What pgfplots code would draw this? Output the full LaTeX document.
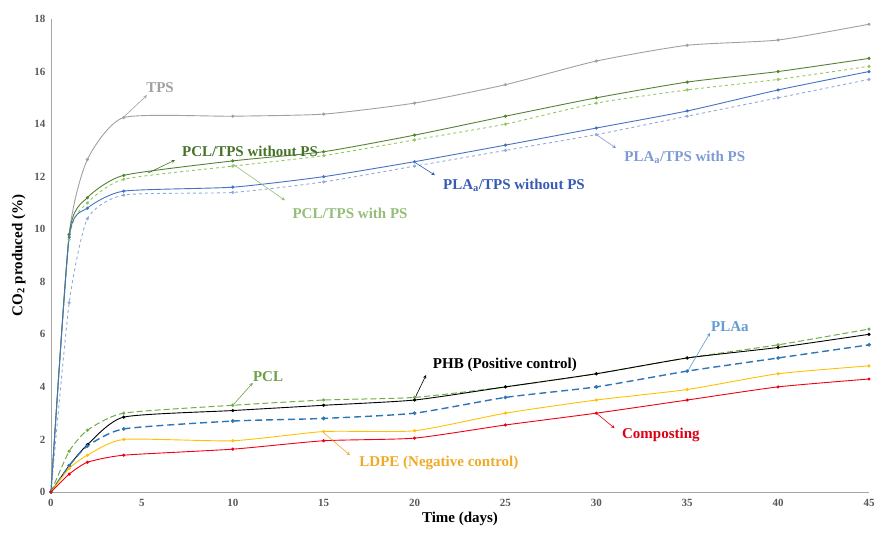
\documentclass[border=0pt]{standalone}
\usepackage{pgfplots}
\pgfplotsset{compat=1.18}
\usepackage{fontspec}
\setmainfont{Liberation Serif}
\definecolor{cTPS}{RGB}{160,160,160}
\definecolor{cPCLTwo}{RGB}{84,130,53}
\definecolor{tPCLTwo}{RGB}{70,115,40}
\definecolor{cPCLTw}{RGB}{146,200,90}
\definecolor{tPCLTw}{RGB}{150,190,120}
\definecolor{cPLATwo}{RGB}{68,114,196}
\definecolor{tPLATwo}{RGB}{55,90,180}
\definecolor{cPLATw}{RGB}{143,170,220}
\definecolor{tPLATw}{RGB}{125,155,210}
\definecolor{cPCL}{RGB}{112,173,71}
\definecolor{tPCL}{RGB}{110,160,70}
\definecolor{cPLAa}{RGB}{46,117,182}
\definecolor{tPLAa}{RGB}{100,155,210}
\definecolor{cLDPE}{RGB}{255,192,0}
\definecolor{tLDPE}{RGB}{240,170,40}
\definecolor{cComp}{RGB}{240,0,20}
\definecolor{tComp}{RGB}{220,0,20}
\pgfplotstableread{
x TPS PCLTwo PCLTw PLATwo PLATw PCL PHB PLAa LDPE Comp
0 0 0 0 0 0 0 0 0 0 0
1 9.8 9.8 9.6 9.7 7.2 1.55 1.0 1.0 0.9 0.68
2 12.65 11.2 11.0 10.8 10.4 2.35 1.8 1.75 1.4 1.13
4 14.25 12.05 11.9 11.45 11.3 3.0 2.85 2.4 2.0 1.4
10 14.3 12.6 12.4 11.6 11.4 3.3 3.1 2.7 1.95 1.63
15 14.38 12.95 12.8 12.0 11.8 3.5 3.3 2.8 2.3 1.95
20 14.8 13.58 13.4 12.57 12.4 3.6 3.5 3.0 2.33 2.05
25 15.5 14.3 14.0 13.2 13.0 4.0 4.0 3.6 3.0 2.55
30 16.4 15.0 14.8 13.85 13.6 4.5 4.5 4.0 3.5 3.0
35 17.0 15.6 15.3 14.5 14.3 5.1 5.1 4.6 3.9 3.5
40 17.2 16.0 15.7 15.3 15.0 5.6 5.5 5.1 4.5 4.0
45 17.8 16.5 16.2 16.0 15.7 6.2 6.0 5.6 4.8 4.3
}\datatable
\begin{document}
\begin{tikzpicture}
\begin{axis}[
  at={(0,0)}, anchor=south west,
  scale only axis, width=818pt, height=473pt,
  xmin=0, xmax=45, ymin=0, ymax=18,
  axis lines=left,
  axis line style={draw=black!35, line width=0.8pt, -},
  xtick={0,5,...,45}, ytick={0,2,...,18},
  major tick length=0pt,
  tick label style={font=\fontsize{11}{12}\selectfont\bfseries, text=black!65},
  /pgf/number format/assume math mode=true,
  xticklabel style={yshift=-4pt},
  yticklabel style={xshift=-2pt},
  xlabel={Time (days)}, ylabel={CO\textsubscript{2} produced (\%)},
  label style={font=\fontsize{15}{16}\selectfont\bfseries},
  xlabel style={at={(axis description cs:0.5,0)}, anchor=north, yshift=-17pt},
  ylabel style={at={(axis description cs:0,0.5)}, anchor=south, yshift=22pt},
  every axis plot/.append style={smooth, tension=0.35, mark=*, mark size=1.1pt, line width=0.9pt},
  clip=false,
]
\addplot[cTPS, mark options={solid}] table[x=x,y=TPS]{\datatable};
\addplot[cPCLTw, dashed, mark options={solid}] table[x=x,y=PCLTw]{\datatable};
\addplot[cPCLTwo, mark options={solid}] table[x=x,y=PCLTwo]{\datatable};
\addplot[cPLATw, dashed, mark options={solid}] table[x=x,y=PLATw]{\datatable};
\addplot[cPLATwo, mark options={solid}] table[x=x,y=PLATwo]{\datatable};
\addplot[cPCL, dash pattern=on 6pt off 3pt, line width=1pt, mark options={solid}] table[x=x,y=PCL]{\datatable};
\addplot[black, mark options={solid}] table[x=x,y=PHB]{\datatable};
\addplot[cPLAa, dash pattern=on 7pt off 4pt, line width=1.4pt, mark options={solid}] table[x=x,y=PLAa]{\datatable};
\addplot[cLDPE, mark options={solid}] table[x=x,y=LDPE]{\datatable};
\addplot[cComp, mark options={solid}] table[x=x,y=Comp]{\datatable};

\tikzset{ann/.style={font=\fontsize{15}{17}\selectfont\bfseries, inner sep=0pt},
         arr/.style={->, >=stealth, line width=0.6pt}}
\draw[arr, cTPS] (4,14.27) -- (5.28,15.1);
\node[ann, text=cTPS] at (6.0,15.37) {TPS};
\draw[arr, tPCLTwo] (5.34,12.14) -- (6.82,12.63);
\node[ann, text=tPCLTwo] at (10.95,12.95) {PCL/TPS without PS};
\draw[arr, tPCLTw] (10.0,12.48) -- (12.87,11.1);
\node[ann, text=tPCLTw] at (16.45,10.62) {PCL/TPS with PS};
\draw[arr, tPLATwo] (19.97,12.56) -- (21.12,12.06);
\node[ann, text=tPLATwo] at (25.47,11.68) {PLA\textsubscript{a}/TPS without PS};
\draw[arr, tPLATw] (30,13.6) -- (31.08,13.09);
\node[ann, text=tPLATw] at (34.87,12.75) {PLA\textsubscript{a}/TPS with PS};
\draw[arr, tPCL] (10,3.3) -- (11.1,4.15);
\node[ann, text=tPCL] at (11.94,4.38) {PCL};
\draw[arr, black] (20,3.54) -- (20.63,4.45);
\node[ann, text=black] at (24.97,4.83) {PHB (Positive control)};
\draw[arr, tPLAa] (35,4.57) -- (36.25,6.05);
\node[ann, text=tPLAa] at (37.35,6.28) {PLAa};
\draw[arr, tLDPE] (14.96,2.28) -- (16.45,1.4);
\node[ann, text=tLDPE] at (21.34,1.1) {LDPE (Negative control)};
\draw[arr, tComp] (30,3.0) -- (31.0,2.43);
\node[ann, text=tComp] at (33.55,2.17) {Composting};
\end{axis}
\pgfresetboundingbox
\path[use as bounding box] (-51pt,-42pt) rectangle (824pt,492pt);
\end{tikzpicture}
\end{document}
